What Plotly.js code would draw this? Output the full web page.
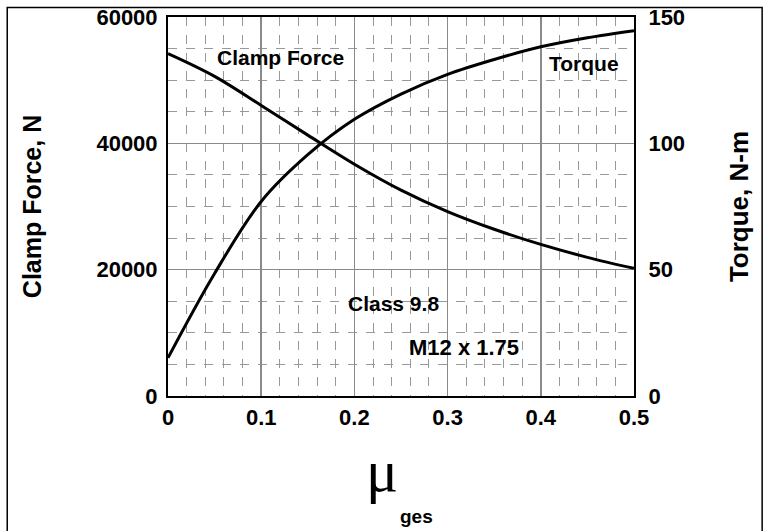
<!DOCTYPE html>
<html>
<head>
<meta charset="utf-8">
<script src="https://cdn.plot.ly/plotly-3.0.1.min.js"></script>
<style>html,body{margin:0;padding:0;background:#fff;}#chart{width:769px;height:531px;}</style>
</head>
<body>
<div id="chart"></div>
<script>
// Friction coefficient (mu_ges)
const mu = [0, 0.05, 0.1, 0.15, 0.2, 0.25, 0.3, 0.35, 0.4, 0.45, 0.5];
// Clamp force, N (left axis)
const clampForce = [54200, 50600, 46000, 41300, 36700, 32600, 29200, 26400, 24000, 21950, 20200];
// Torque, N-m (right axis)
const torque = [15.1, 48.5, 77, 95.5, 109.5, 119.5, 127.3, 133.2, 138.2, 141.8, 144.6];

const xTicks = [0, 0.1, 0.2, 0.3, 0.4, 0.5];
const yTicks = [0, 20000, 40000, 60000];
const y2Ticks = [0, 50, 100, 150];

const FONT = "Liberation Sans, Arial, sans-serif";
const GRID = "#8a8a8a";
const MINOR = "#999999";

const traces = [
  {x: mu, y: clampForce, type: "scatter", mode: "lines", line: {color: "#000", width: 3, shape: "spline", smoothing: 1}, yaxis: "y", hoverinfo: "skip"},
  {x: mu, y: torque, type: "scatter", mode: "lines", line: {color: "#000", width: 3, shape: "spline", smoothing: 1}, yaxis: "y2", hoverinfo: "skip"}
];

const layout = {
  width: 769, height: 531,
  margin: {l: 168, r: 135, t: 17, b: 135},
  paper_bgcolor: "#fff", plot_bgcolor: "#fff",
  showlegend: false,
  font: {family: FONT, color: "#000"},
  xaxis: {
    range: [0, 0.5], tickvals: xTicks, ticktext: xTicks.map(String),
    showgrid: true, gridcolor: GRID, gridwidth: 1.5,
    minor: {dtick: 0.02, showgrid: true, gridcolor: MINOR, griddash: "dash", gridwidth: 1},
    showline: true, linecolor: "#000", linewidth: 2, mirror: true,
    ticks: "", ticklabelstandoff: 1, zeroline: false,
    tickfont: {family: FONT, size: 22, color: "#000", weight: "bold"}
  },
  yaxis: {
    range: [0, 60000], tickvals: yTicks, ticktext: yTicks.map(String),
    showgrid: true, gridcolor: GRID, gridwidth: 1.5,
    minor: {dtick: 5000, showgrid: true, gridcolor: MINOR, griddash: "dash", gridwidth: 1},
    showline: true, linecolor: "#000", linewidth: 2, mirror: true,
    ticks: "", ticklabelstandoff: 4, zeroline: false,
    tickfont: {family: FONT, size: 22, color: "#000", weight: "bold"},
    title: {text: "Clamp Force, N", font: {family: FONT, size: 25, color: "#000", weight: "bold"}, standoff: 48}
  },
  yaxis2: {
    range: [0, 150], tickvals: y2Ticks, ticktext: y2Ticks.map(String),
    overlaying: "y", side: "right", showgrid: false, zeroline: false,
    showline: true, linecolor: "#000", linewidth: 2,
    ticks: "", ticklabelstandoff: 8,
    tickfont: {family: FONT, size: 22, color: "#000", weight: "bold"},
    title: {text: "Torque, N-m", font: {family: FONT, size: 26, color: "#000", weight: "bold"}, standoff: 46}
  },
  annotations: [
    {x: 0.1212, y: 53668, xref: "x", yref: "y", text: "Clamp Force", showarrow: false, font: {family: FONT, size: 21, weight: "bold"}},
    {x: 0.4464, y: 52718, xref: "x", yref: "y", text: "Torque", showarrow: false, font: {family: FONT, size: 21, weight: "bold"}},
    {x: 0.242, y: 14723, xref: "x", yref: "y", text: "Class 9.8", showarrow: false, font: {family: FONT, size: 21, weight: "bold"}},
    {x: 0.318, y: 7757, xref: "x", yref: "y", text: "M12 x 1.75", showarrow: false, font: {family: FONT, size: 22, weight: "bold"}},
    {x: 0.459, y: -0.198, xref: "paper", yref: "paper", yanchor: "middle", text: "μ", showarrow: false, font: {family: "Liberation Serif, serif", size: 60}},
    {x: 0.534, y: -0.317, xref: "paper", yref: "paper", yanchor: "middle", text: "ges", showarrow: false, font: {family: FONT, size: 19, weight: "bold"}}
  ],
  shapes: [
    {type: "rect", xref: "paper", yref: "paper", x0: -0.345, x1: 1.275, y0: -0.4, y1: 1.025, line: {color: "#000", width: 1.5}, fillcolor: "rgba(0,0,0,0)"}
  ]
};

Plotly.newPlot("chart", traces, layout, {displayModeBar: false, staticPlot: true});
</script>
</body>
</html>
